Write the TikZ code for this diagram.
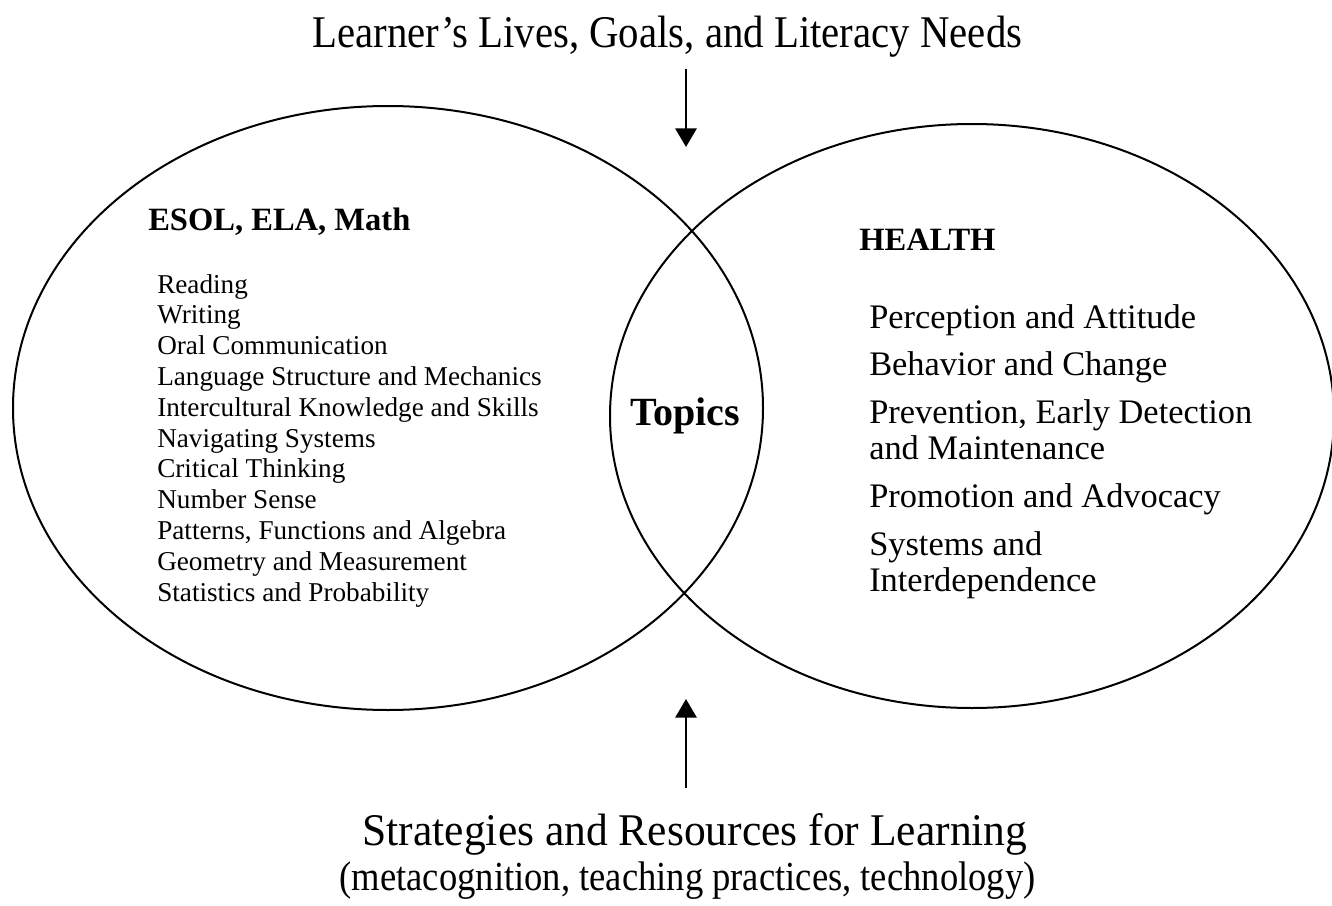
\documentclass[tikz,border=0pt]{standalone}
\usepackage{fontspec}
\setmainfont{Liberation Serif}
\usetikzlibrary{arrows.meta}
\newcommand\squeeze[2]{\scalebox{#1}[1]{#2}}

\begin{document}
\begin{tikzpicture}[x=0.75pt,y=-0.75pt,
  every node/.style={inner sep=0pt},
  venn/.style={line width=1.5pt},
  flow/.style={line width=1.6pt,-{Triangle[length=14pt,width=16pt]}},
  banner/.style={font=\fontsize{34}{36}\selectfont, anchor=base},
  subject/.style={font=\fontsize{24.4}{28}\selectfont\bfseries, anchor=base west},
  esolitem/.style={font=\fontsize{20.4}{23}\selectfont, anchor=base west},
  healthitem/.style={font=\fontsize{25.8}{28}\selectfont, anchor=base west}]
  \useasboundingbox (0,0) rectangle (1332,906);

  % the two sets
  \draw[venn] (388,408) ellipse [x radius=375, y radius=302];
  \draw[venn] (972,416) ellipse [x radius=362, y radius=292];

  % top and bottom labels
  \node[banner] (needs) at (667.5,48)
    {\squeeze{0.9}{Learner’s Lives, Goals, and Literacy Needs}};
  \node[banner] (strategies) at (695,845)
    {\squeeze{0.96}{Strategies and Resources for Learning}};
  \node[banner, font=\fontsize{31}{33}\selectfont] (means) at (687.5,890)
    {\squeeze{0.885}{(metacognition, teaching practices, technology)}};

  \coordinate (needsfrom) at (686,69);
  \coordinate (needsto) at (686,147);
  \coordinate (strategiesfrom) at (686,788);
  \coordinate (strategiesto) at (686,699);
  \draw[flow] (needsfrom) -- (needsto);
  \draw[flow] (strategiesfrom) -- (strategiesto);

  % left set
  \node[subject] (esol) at (148,230) {ESOL, ELA, Math};
  \foreach \txt [count=\i] in {Reading, Writing, Oral Communication,
      Language Structure and Mechanics, Intercultural Knowledge and Skills,
      Navigating Systems, Critical Thinking, Number Sense,
      {Patterns, Functions and Algebra}, Geometry and Measurement,
      Statistics and Probability}
    \node[esolitem] (esol\i) at (157,{293+(\i-1)*30.8}) {\txt};

  % overlap
  \node[font=\fontsize{30}{32}\selectfont\bfseries, anchor=base] (topics)
    at (685,425) {Topics};

  % right set
  \node[subject] (health) at (859,250) {HEALTH};
  \foreach \txt/\yb [count=\i] in {Perception and Attitude/328,
      Behavior and Change/375, {Prevention, Early Detection}/423,
      and Maintenance/459, Promotion and Advocacy/507,
      Systems and/555, Interdependence/591}
    \node[healthitem] (health\i) at (869,\yb) {\txt};
\end{tikzpicture}
\end{document}
